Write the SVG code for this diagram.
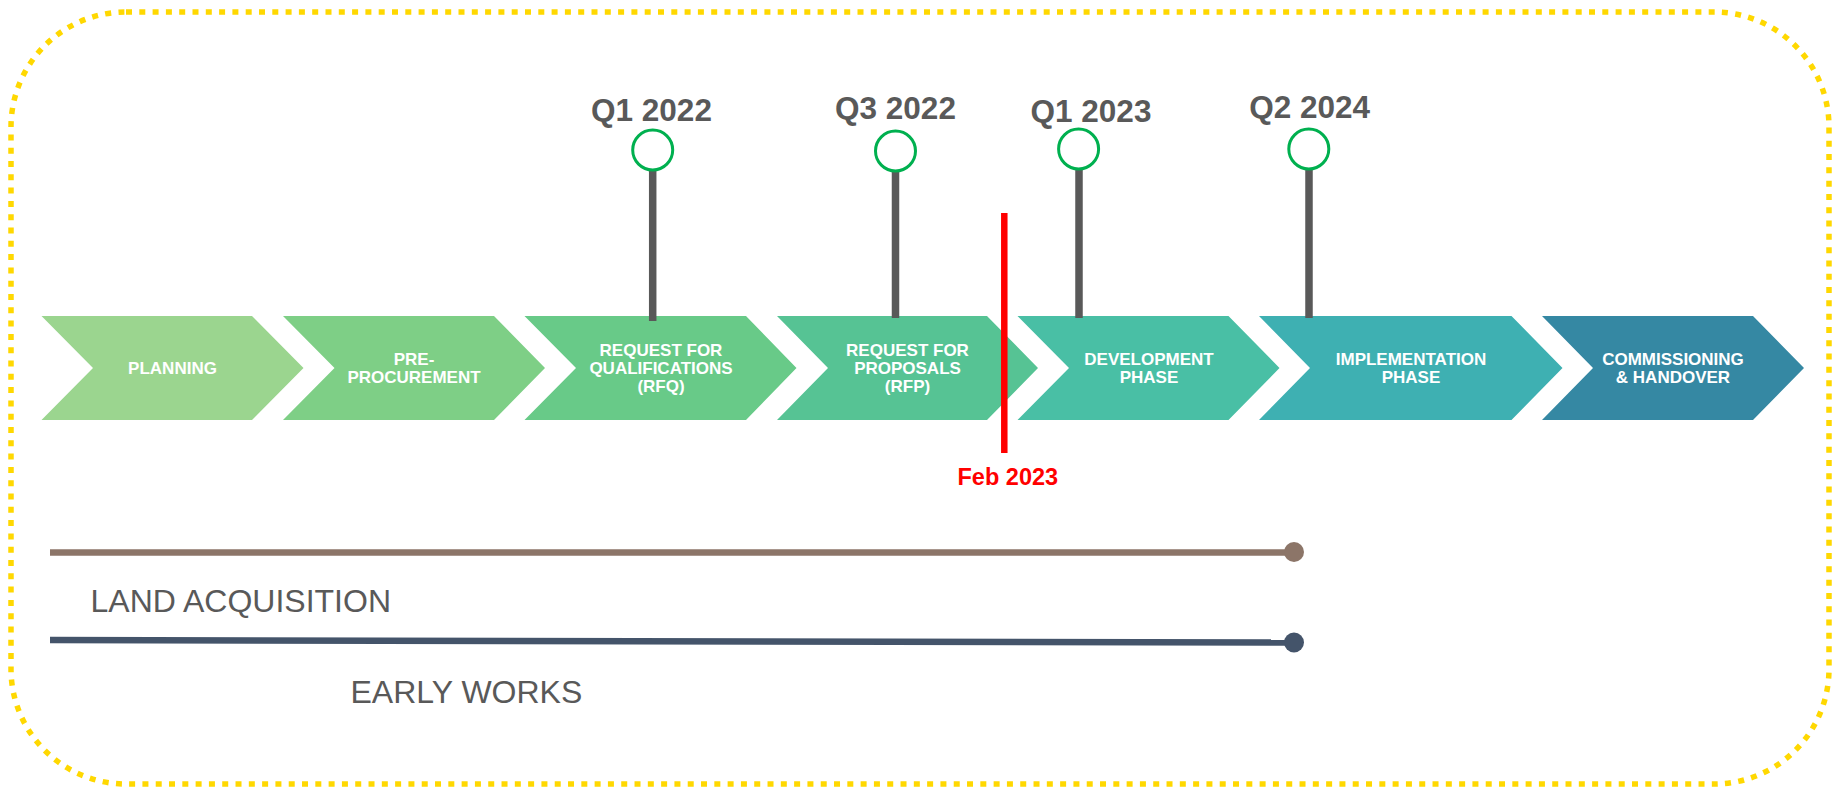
<svg xmlns="http://www.w3.org/2000/svg" width="1839" height="789" viewBox="0 0 1839 789">
<style>
.frame{fill:none;stroke:#FFD800;stroke-width:5.5;stroke-dasharray:6 7.3}
.chev-t{font-family:"Liberation Sans",Arial,sans-serif;font-weight:bold;font-size:17px;fill:#FFFFFF;text-anchor:middle}
.ms-t{font-family:"Liberation Sans",Arial,sans-serif;font-weight:bold;font-size:31.5px;fill:#595959;text-anchor:middle}
.ms-c{fill:#FFFFFF;stroke:#00B04F;stroke-width:3}
.stem{stroke:#595959;stroke-width:7.5;fill:none}
.bar-t{font-family:"Liberation Sans",Arial,sans-serif;font-size:32px;fill:#595959}
.now{stroke:#FF0000;stroke-width:6.5;fill:none}
.now-t{font-family:"Liberation Sans",Arial,sans-serif;font-weight:bold;font-size:23.5px;fill:#FF0000;text-anchor:middle}
</style>
<rect x="0" y="0" width="1839" height="789" fill="#FFFFFF"/>
<rect class="frame" x="11" y="12" width="1818" height="772" rx="115" ry="115"/>

<g id="chevron-planning">
<polygon points="41.5,316 252,316 303.5,368 252,420 41.5,420 93,368" fill="#9BD58F"/>
<text class="chev-t" x="172.5" y="374">PLANNING</text>
</g>
<g id="chevron-pre-procurement">
<polygon points="283,316 494,316 545,368 494,420 283,420 334.5,368" fill="#7ECF86"/>
<text class="chev-t" x="414" y="365">PRE-</text>
<text class="chev-t" x="414" y="383">PROCUREMENT</text>
</g>
<g id="chevron-rfq">
<polygon points="524.5,316 746,316 796.5,368 746,420 524.5,420 576,368" fill="#68CA88"/>
<text class="chev-t" x="661" y="356">REQUEST FOR</text>
<text class="chev-t" x="661" y="374">QUALIFICATIONS</text>
<text class="chev-t" x="661" y="392">(RFQ)</text>
</g>
<g id="chevron-rfp">
<polygon points="777,316 987,316 1038,368 987,420 777,420 828,368" fill="#56C394"/>
<text class="chev-t" x="907.5" y="356">REQUEST FOR</text>
<text class="chev-t" x="907.5" y="374">PROPOSALS</text>
<text class="chev-t" x="907.5" y="392">(RFP)</text>
</g>
<g id="chevron-development">
<polygon points="1017.5,316 1228.5,316 1279.5,368 1228.5,420 1017.5,420 1069,368" fill="#49BFA5"/>
<text class="chev-t" x="1149" y="365">DEVELOPMENT</text>
<text class="chev-t" x="1149" y="383">PHASE</text>
</g>
<g id="chevron-implementation">
<polygon points="1259,316 1511.5,316 1562.5,368 1511.5,420 1259,420 1310,368" fill="#3EB0B2"/>
<text class="chev-t" x="1411" y="365">IMPLEMENTATION</text>
<text class="chev-t" x="1411" y="383">PHASE</text>
</g>
<g id="chevron-commissioning">
<polygon points="1542,316 1753,316 1804,368 1753,420 1542,420 1593,368" fill="#3588A3"/>
<text class="chev-t" x="1673" y="365">COMMISSIONING</text>
<text class="chev-t" x="1673" y="383">&amp; HANDOVER</text>
</g>

<g id="connectors">
<line class="stem" x1="652.7" y1="170" x2="652.7" y2="321"/>
<line class="stem" x1="895.5" y1="171" x2="895.5" y2="318"/>
<line class="stem" x1="1079" y1="169" x2="1079" y2="318"/>
<line class="stem" x1="1309" y1="169" x2="1309" y2="318"/>
<line class="now" x1="1004.3" y1="213" x2="1004.3" y2="453"/>
<line x1="50" y1="552.5" x2="1294" y2="552.5" stroke="#8C7568" stroke-width="6.5"/>
<circle cx="1294" cy="552" r="10" fill="#8C7568"/>
<line x1="50" y1="640" x2="1294" y2="642.5" stroke="#44546A" stroke-width="6.5"/>
<circle cx="1294" cy="642.5" r="10" fill="#44546A"/>
</g>

<g id="milestone-q1-2022">
<circle class="ms-c" cx="652.7" cy="150" r="20"/>
<text class="ms-t" x="651.5" y="121">Q1 2022</text>
</g>
<g id="milestone-q3-2022">
<circle class="ms-c" cx="895.5" cy="151" r="20"/>
<text class="ms-t" x="895.5" y="119">Q3 2022</text>
</g>
<g id="milestone-q1-2023">
<circle class="ms-c" cx="1078.6" cy="149" r="20"/>
<text class="ms-t" x="1091" y="122">Q1 2023</text>
</g>
<g id="milestone-q2-2024">
<circle class="ms-c" cx="1308.8" cy="149" r="20"/>
<text class="ms-t" x="1309.6" y="118">Q2 2024</text>
</g>

<g id="today-marker">
<text class="now-t" x="1007.8" y="485">Feb 2023</text>
</g>

<g id="land-acquisition">
<text class="bar-t" x="90.5" y="612">LAND ACQUISITION</text>
</g>
<g id="early-works">
<text class="bar-t" x="350.5" y="702.5">EARLY WORKS</text>
</g>
</svg>
